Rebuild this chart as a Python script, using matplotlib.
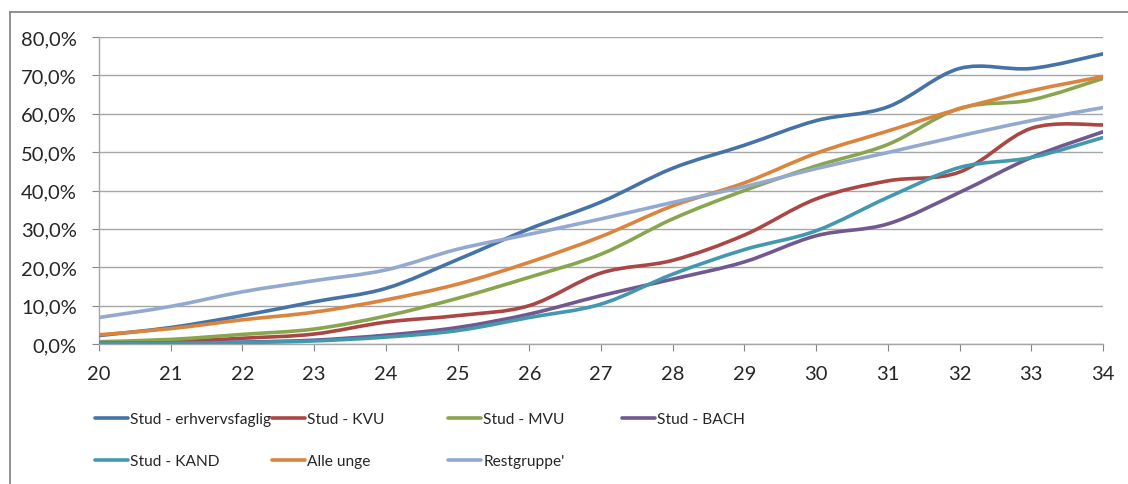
import matplotlib
matplotlib.use("Agg")
import matplotlib.pyplot as plt
from matplotlib.path import Path
from matplotlib.patches import PathPatch
from matplotlib.lines import Line2D

plt.rcParams['font.family'] = ['Lato', 'DejaVu Sans']

ages = [20, 21, 22, 23, 24, 25, 26, 27, 28, 29, 30, 31, 32, 33, 34]

erhvervsfaglig = [2.2, 4.3, 7.4, 11.0, 14.5, 22.0, 30.0, 37.0, 45.8, 51.8, 58.2, 61.8, 71.8, 71.8, 75.6]
kvu = [0.3, 0.6, 1.5, 2.6, 5.7, 7.4, 10.0, 18.5, 21.8, 28.4, 37.8, 42.5, 44.8, 56.2, 57.1]
mvu = [0.6, 1.2, 2.5, 3.9, 7.3, 11.9, 17.4, 23.4, 32.6, 40.0, 46.4, 52.0, 61.4, 63.6, 69.2]
bach = [0.2, 0.3, 0.5, 1.0, 2.3, 4.3, 7.8, 12.6, 16.9, 21.4, 28.2, 31.3, 39.5, 48.6, 55.3]
kand = [0.1, 0.2, 0.4, 0.8, 1.8, 3.5, 6.9, 10.4, 18.2, 24.6, 29.5, 38.2, 46.0, 48.6, 53.8]
alle_unge = [2.4, 4.0, 6.3, 8.3, 11.5, 15.6, 21.3, 28.0, 36.0, 42.0, 49.7, 55.5, 61.3, 66.0, 69.7]
restgruppe = [6.9, 9.8, 13.6, 16.5, 19.3, 24.7, 28.6, 32.6, 36.9, 41.0, 45.7, 49.9, 54.2, 58.2, 61.6]

labels = ["Stud - erhvervsfaglig", "Stud - KVU", "Stud - MVU", "Stud - BACH",
          "Stud - KAND", "Alle unge", "Restgruppe'"]
series = [erhvervsfaglig, kvu, mvu, bach, kand, alle_unge, restgruppe]
colors = ["#4572A7", "#AA4643", "#89A54E", "#71588F", "#4198AF", "#DB843D", "#93A9CF"]


def smooth_path(xs, ys):
    # Excel style smoothed line: Catmull-Rom segments as cubic Bezier curves
    pts = list(zip(xs, [v / 100 for v in ys]))
    n = len(pts)
    verts = [pts[0]]
    codes = [Path.MOVETO]
    for i in range(n - 1):
        p0 = pts[i - 1] if i > 0 else pts[i]
        p1 = pts[i]
        p2 = pts[i + 1]
        p3 = pts[i + 2] if i + 2 < n else pts[i + 1]
        c1 = (p1[0] + (p2[0] - p0[0]) / 6, p1[1] + (p2[1] - p0[1]) / 6)
        c2 = (p2[0] - (p3[0] - p1[0]) / 6, p2[1] - (p3[1] - p1[1]) / 6)
        verts += [c1, c2, p2]
        codes += [Path.CURVE4] * 3
    return Path(verts, codes)


fig = plt.figure(figsize=(11.28, 4.85), dpi=100)
ax = fig.add_axes([99 / 1128, 1 - 345 / 485, (1103 - 99) / 1128, (345 - 38) / 485])

for ys, c in zip(series, colors):
    ax.add_patch(PathPatch(smooth_path(ages, ys), fill=False, edgecolor=c,
                           lw=2.6, capstyle='round', joinstyle='round', zorder=3))

ax.set_xlim(20, 34)
ax.set_ylim(0, 0.8)
ax.set_xticks(ages)
yt = [i / 10 for i in range(9)]
ax.set_yticks(yt)
ax.set_yticklabels([f"{v * 100:.1f}%".replace(".", ",") for v in yt])

ax.grid(axis='y', color='#A6A6A6', lw=1.0)
ax.set_axisbelow(True)
for s in ['top', 'right']:
    ax.spines[s].set_visible(False)
for s in ['left', 'bottom']:
    ax.spines[s].set_color('#A6A6A6')
    ax.spines[s].set_linewidth(1.0)
ax.tick_params(axis='both', colors='#868686', labelcolor='#262626', labelsize=14.5, length=5)
ax.tick_params(axis='y', pad=11)
ax.tick_params(axis='x', pad=10)

# outer chart frame (only top and left edges fall inside the picture)
fig.add_artist(Line2D([10 / 1128, 1], [1 - 13 / 485, 1 - 13 / 485], color='#888888', lw=1.3))
fig.add_artist(Line2D([10 / 1128, 10 / 1128], [0, 1 - 13 / 485], color='#888888', lw=1.3))

# legend: 4 equal-width columns like Excel
col_x = [100, 277, 453, 627]
for col in range(4):
    idx = [i for i in range(len(labels)) if i % 4 == col]
    handles = [Line2D([], [], color=colors[i], lw=2.6, solid_capstyle='round') for i in idx]
    fig.legend(handles, [labels[i] for i in idx], loc='upper left',
               bbox_to_anchor=(col_x[col] / 1128 - 0.004, 1 - 413 / 485),
               frameon=False, fontsize=11.2, handlelength=2.1, handletextpad=0.15,
               labelspacing=1.8, borderaxespad=0, borderpad=0, labelcolor='#262626')

fig.savefig("out.png", dpi=100)
